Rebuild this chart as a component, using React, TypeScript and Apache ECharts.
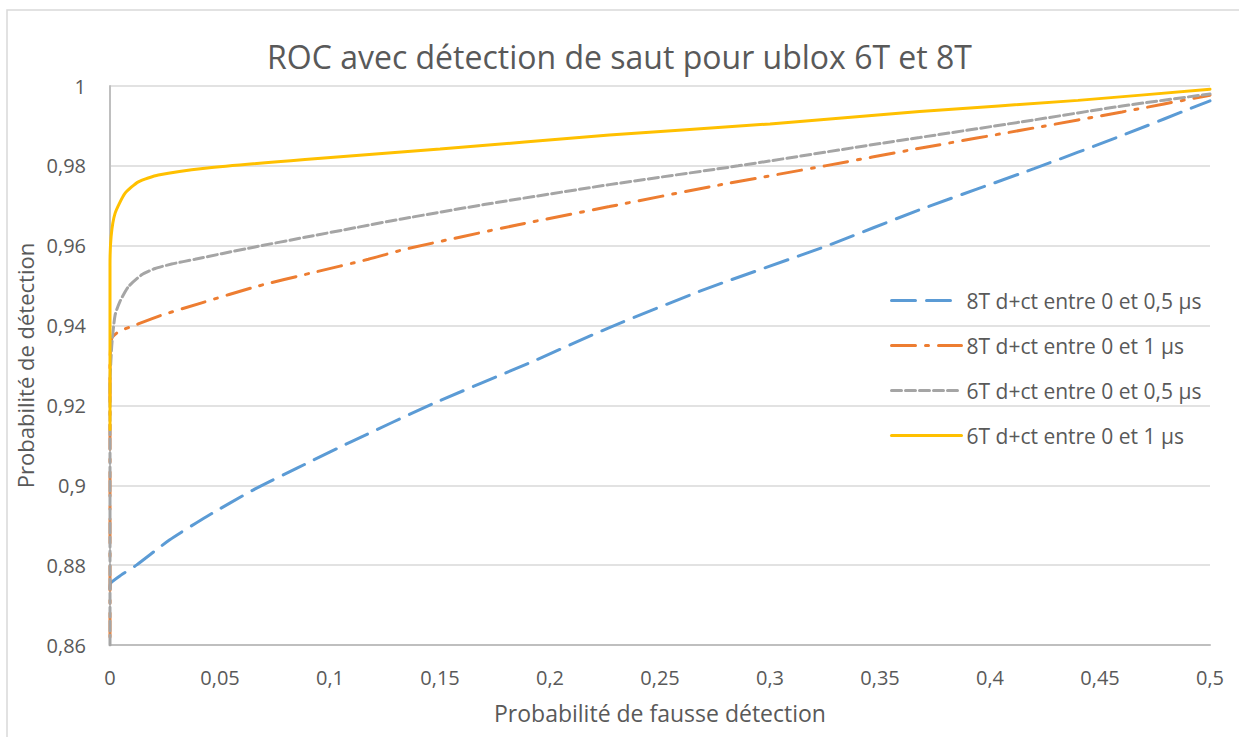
import React, { useEffect, useRef } from "react";
import * as echarts from "echarts";

const seriesNames = [
  "8T d+ct entre 0 et 0,5 µs",
  "8T d+ct entre 0 et 1 µs",
  "6T d+ct entre 0 et 0,5 µs",
  "6T d+ct entre 0 et 1 µs",
];

const x8T05 = [0, 0.0003, 0.005, 0.012, 0.027, 0.044, 0.065, 0.085, 0.11, 0.147, 0.19, 0.227, 0.27, 0.326, 0.368, 0.42, 0.46, 0.5];
const y8T05 = [0.874, 0.8755, 0.8775, 0.88, 0.8863, 0.8922, 0.8988, 0.9043, 0.911, 0.9205, 0.9305, 0.9395, 0.949, 0.96, 0.969, 0.9793, 0.9876, 0.9963];

const x8T1 = [0, 0, 0.0008, 0.004, 0.0114, 0.0235, 0.0417, 0.0667, 0.0917, 0.1174, 0.134, 0.185, 0.227, 0.275, 0.325, 0.368, 0.42, 0.46, 0.5];
const y8T1 = [0.862, 0.93, 0.9368, 0.9385, 0.9401, 0.9426, 0.9457, 0.9498, 0.9532, 0.9566, 0.9591, 0.9652, 0.9698, 0.975, 0.98, 0.9844, 0.9895, 0.9935, 0.9977];

const x6T05 = [0, 0, 0.0008, 0.0023, 0.0045, 0.0083, 0.0144, 0.0205, 0.028, 0.0386, 0.0508, 0.0659, 0.0886, 0.1114, 0.1326, 0.17, 0.227, 0.2855, 0.35, 0.368, 0.42, 0.46, 0.5];
const y6T05 = [0.86, 0.925, 0.935, 0.9426, 0.946, 0.9497, 0.9527, 0.9543, 0.9554, 0.9566, 0.958, 0.9597, 0.9621, 0.9645, 0.9667, 0.9703, 0.9753, 0.98, 0.9856, 0.9871, 0.9915, 0.995, 0.998];

const x6T1 = [0, 0, 0.0005, 0.0023, 0.0068, 0.0129, 0.022, 0.0432, 0.0886, 0.15, 0.227, 0.3, 0.368, 0.44, 0.5];
const y6T1 = [0.914, 0.955, 0.9623, 0.9681, 0.9731, 0.976, 0.9777, 0.9794, 0.9816, 0.9842, 0.9877, 0.9905, 0.9936, 0.9964, 0.9992];

const xs = [x8T05, x8T1, x6T05, x6T1];
const ys = [y8T05, y8T1, y6T05, y6T1];
const colors = ["#5B9BD5", "#ED7D31", "#A5A5A5", "#FFC000"];
const dashes: any[] = [[24, 11], [24, 10, 3, 10], [10, 4], "solid"];

const fmt = (v: number) => {
  const s = String(parseFloat(v.toFixed(3)));
  return s.replace(".", ",");
};

export default function App() {
  const ref = useRef<HTMLDivElement>(null);
  useEffect(() => {
    if (!ref.current) return;
    const chart = echarts.init(ref.current, undefined, { renderer: "svg" });
    const textColor = "#595959";
    const font = "'Open Sans', 'Noto Sans', sans-serif";
    chart.setOption({
      animation: false,
      backgroundColor: "#ffffff",
      textStyle: { fontFamily: font },
      title: {
        text: "ROC avec détection de saut pour ublox 6T et 8T",
        left: "center",
        top: 35,
        textStyle: { fontSize: 32, fontWeight: "normal", color: textColor, fontFamily: font },
      },
      graphic: [
        {
          type: "rect",
          shape: { x: 7, y: 10, width: 1300, height: 800 },
          style: { fill: "none", stroke: "#d9d9d9", lineWidth: 1.5 },
          silent: true,
        },
      ],
      grid: { left: 110, right: 29, top: 86, bottom: 92, containLabel: false },
      legend: {
        orient: "vertical",
        left: 885,
        top: 285,
        itemWidth: 70,
        itemHeight: 14,
        itemGap: 24,
        itemStyle: { opacity: 0 },
        lineStyle: { width: 3 },
        textStyle: { fontSize: 21, color: textColor, fontFamily: font },
        data: seriesNames,
      },
      xAxis: {
        type: "value",
        min: 0,
        max: 0.5,
        interval: 0.05,
        name: "Probabilité de fausse détection",
        nameLocation: "middle",
        nameGap: 56,
        nameTextStyle: { fontSize: 23, color: textColor },
        axisLine: { show: true, lineStyle: { color: "#bfbfbf", width: 2 } },
        axisTick: { show: false },
        splitLine: { show: false },
        axisLabel: { formatter: fmt, fontSize: 20, color: textColor, margin: 22 },
      },
      yAxis: {
        type: "value",
        min: 0.86,
        max: 1,
        interval: 0.02,
        name: "Probabilité de détection",
        nameLocation: "middle",
        nameGap: 70,
        nameTextStyle: { fontSize: 22, color: textColor },
        axisLine: { show: true, lineStyle: { color: "#bfbfbf", width: 2 } },
        axisTick: { show: false },
        splitLine: { show: true, lineStyle: { color: "#d9d9d9", width: 1.5 } },
        axisLabel: { formatter: fmt, fontSize: 20, color: textColor, margin: 24 },
      },
      series: seriesNames.map((name, i) => ({
        name,
        type: "line",
        showSymbol: false,
        symbol: "none",
        smooth: 0.2,
        color: colors[i],
        lineStyle: { color: colors[i], width: 3, type: dashes[i], cap: "round" },
        data: xs[i].map((x, j) => [x, ys[i][j]]),
      })),
    });
    return () => chart.dispose();
  }, []);
  return <div ref={ref} style={{ position: "fixed", left: 0, top: 0, width: 1239, height: 737 }} />;
}
